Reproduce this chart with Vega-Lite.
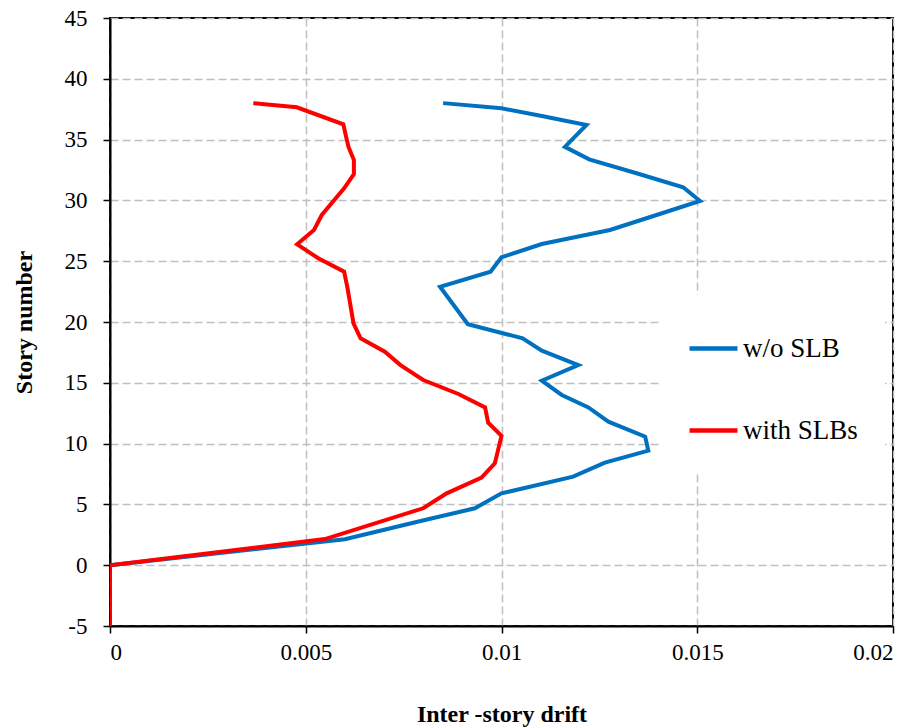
{
  "$schema": "https://vega.github.io/schema/vega-lite/v6.json",
  "autosize": "none",
  "width": 783,
  "height": 608,
  "padding": {"left": 110, "top": 18, "right": 30, "bottom": 102},
  "background": "white",
  "config": {
    "font": "Liberation Serif",
    "view": {"stroke": "black", "strokeWidth": 2},
    "axis": {
      "domainColor": "black", "domainWidth": 2,
      "tickColor": "black", "tickWidth": 1.5, "tickSize": 7,
      "labelFont": "Liberation Serif", "labelFontSize": 23, "labelColor": "black",
      "titleFont": "Liberation Serif", "titleFontSize": 24, "titleFontWeight": "bold", "titleColor": "black",
      "gridColor": "#bfbfbf", "gridDash": [8, 4], "gridWidth": 1.5
    },
    "legend": {"labelFont": "Liberation Serif"}
  },
  "datasets": {
    "drift": [
      {"series": "w/o SLB", "i": 1, "drift": 0.00851, "story": 38},
      {"series": "w/o SLB", "i": 2, "drift": 0.0100, "story": 37.57},
      {"series": "w/o SLB", "i": 3, "drift": 0.01103, "story": 36.94},
      {"series": "w/o SLB", "i": 4, "drift": 0.01217, "story": 36.2},
      {"series": "w/o SLB", "i": 5, "drift": 0.01162, "story": 34.4},
      {"series": "w/o SLB", "i": 6, "drift": 0.01224, "story": 33.38},
      {"series": "w/o SLB", "i": 7, "drift": 0.01345, "story": 32.23},
      {"series": "w/o SLB", "i": 8, "drift": 0.01464, "story": 31.08},
      {"series": "w/o SLB", "i": 9, "drift": 0.01507, "story": 29.95},
      {"series": "w/o SLB", "i": 10, "drift": 0.01396, "story": 28.8},
      {"series": "w/o SLB", "i": 11, "drift": 0.01277, "story": 27.57},
      {"series": "w/o SLB", "i": 12, "drift": 0.01103, "story": 26.41},
      {"series": "w/o SLB", "i": 13, "drift": 0.0100, "story": 25.32},
      {"series": "w/o SLB", "i": 14, "drift": 0.00972, "story": 24.14},
      {"series": "w/o SLB", "i": 15, "drift": 0.00843, "story": 22.9},
      {"series": "w/o SLB", "i": 16, "drift": 0.00914, "story": 19.81},
      {"series": "w/o SLB", "i": 17, "drift": 0.01054, "story": 18.66},
      {"series": "w/o SLB", "i": 18, "drift": 0.01103, "story": 17.64},
      {"series": "w/o SLB", "i": 19, "drift": 0.01196, "story": 16.46},
      {"series": "w/o SLB", "i": 20, "drift": 0.01103, "story": 15.17},
      {"series": "w/o SLB", "i": 21, "drift": 0.01154, "story": 14.0},
      {"series": "w/o SLB", "i": 22, "drift": 0.01222, "story": 12.98},
      {"series": "w/o SLB", "i": 23, "drift": 0.01273, "story": 11.8},
      {"series": "w/o SLB", "i": 24, "drift": 0.01367, "story": 10.57},
      {"series": "w/o SLB", "i": 25, "drift": 0.01375, "story": 9.42},
      {"series": "w/o SLB", "i": 26, "drift": 0.01264, "story": 8.43},
      {"series": "w/o SLB", "i": 27, "drift": 0.01183, "story": 7.28},
      {"series": "w/o SLB", "i": 28, "drift": 0.0100, "story": 5.91},
      {"series": "w/o SLB", "i": 29, "drift": 0.00932, "story": 4.68},
      {"series": "w/o SLB", "i": 30, "drift": 0.00796, "story": 3.66},
      {"series": "w/o SLB", "i": 31, "drift": 0.0060, "story": 2.13},
      {"series": "w/o SLB", "i": 32, "drift": 0, "story": 0},
      {"series": "w/o SLB", "i": 33, "drift": 0, "story": -5},
      {"series": "with SLBs", "i": 1, "drift": 0.00366, "story": 38},
      {"series": "with SLBs", "i": 2, "drift": 0.00477, "story": 37.66},
      {"series": "with SLBs", "i": 3, "drift": 0.00596, "story": 36.26},
      {"series": "with SLBs", "i": 4, "drift": 0.00603, "story": 35.24},
      {"series": "with SLBs", "i": 5, "drift": 0.00609, "story": 34.42},
      {"series": "with SLBs", "i": 6, "drift": 0.00623, "story": 33.32},
      {"series": "with SLBs", "i": 7, "drift": 0.00623, "story": 32.17},
      {"series": "with SLBs", "i": 8, "drift": 0.00598, "story": 30.99},
      {"series": "with SLBs", "i": 9, "drift": 0.00541, "story": 28.8},
      {"series": "with SLBs", "i": 10, "drift": 0.00521, "story": 27.57},
      {"series": "with SLBs", "i": 11, "drift": 0.00478, "story": 26.39},
      {"series": "with SLBs", "i": 12, "drift": 0.00532, "story": 25.24},
      {"series": "with SLBs", "i": 13, "drift": 0.00598, "story": 24.14},
      {"series": "with SLBs", "i": 14, "drift": 0.00606, "story": 22.9},
      {"series": "with SLBs", "i": 15, "drift": 0.00622, "story": 19.89},
      {"series": "with SLBs", "i": 16, "drift": 0.0064, "story": 18.66},
      {"series": "with SLBs", "i": 17, "drift": 0.00702, "story": 17.56},
      {"series": "with SLBs", "i": 18, "drift": 0.00742, "story": 16.46},
      {"series": "with SLBs", "i": 19, "drift": 0.0080, "story": 15.23},
      {"series": "with SLBs", "i": 20, "drift": 0.0089, "story": 14.08},
      {"series": "with SLBs", "i": 21, "drift": 0.00958, "story": 12.98},
      {"series": "with SLBs", "i": 22, "drift": 0.00966, "story": 11.72},
      {"series": "with SLBs", "i": 23, "drift": 0.0100, "story": 10.63},
      {"series": "with SLBs", "i": 24, "drift": 0.00983, "story": 8.38},
      {"series": "with SLBs", "i": 25, "drift": 0.00949, "story": 7.2},
      {"series": "with SLBs", "i": 26, "drift": 0.0086, "story": 5.91},
      {"series": "with SLBs", "i": 27, "drift": 0.0080, "story": 4.68},
      {"series": "with SLBs", "i": 28, "drift": 0.00549, "story": 2.15},
      {"series": "with SLBs", "i": 29, "drift": 0, "story": 0},
      {"series": "with SLBs", "i": 30, "drift": 0, "story": -5}
    ]
  },
  "data": {"name": "drift"},
  "encoding": {
    "x": {
      "field": "drift", "type": "quantitative",
      "scale": {"domain": [0, 0.02], "nice": false, "zero": false},
      "axis": {
        "title": "Inter -story drift",
        "values": [0, 0.005, 0.01, 0.015, 0.02],
        "labelExpr": "'' + datum.value",
        "labelPadding": 8, "titlePadding": 38, "grid": true
      }
    },
    "y": {
      "field": "story", "type": "quantitative",
      "scale": {"domain": [-5, 45], "nice": false, "zero": false},
      "axis": {
        "title": "Story number",
        "values": [-5, 0, 5, 10, 15, 20, 25, 30, 35, 40, 45],
        "labelExpr": "'' + datum.value",
        "labelPadding": 16, "titlePadding": 28, "grid": true
      }
    },
    "order": {"field": "i", "type": "quantitative"},
    "color": {
      "field": "series", "type": "nominal",
      "scale": {"domain": ["w/o SLB", "with SLBs"], "range": ["#0070C0", "#FF0000"]},
      "legend": {
        "title": null, "orient": "none", "legendX": 550, "legendY": 277,
        "padding": 27, "fillColor": "white", "strokeColor": null,
        "symbolType": "stroke", "symbolSize": 2304, "symbolStrokeWidth": 4.5,
        "rowPadding": 42, "labelFontSize": 27, "labelOffset": 3,
        "labelFont": "Liberation Serif", "labelColor": "black"
      }
    }
  },
  "layer": [
    {
      "transform": [{"filter": "datum.series === 'w/o SLB'"}],
      "mark": {"type": "line", "strokeWidth": 4, "strokeJoin": "miter", "clip": true}
    },
    {
      "transform": [{"filter": "datum.series === 'with SLBs'"}],
      "mark": {"type": "line", "strokeWidth": 4, "strokeJoin": "miter", "clip": true}
    }
  ]
}
